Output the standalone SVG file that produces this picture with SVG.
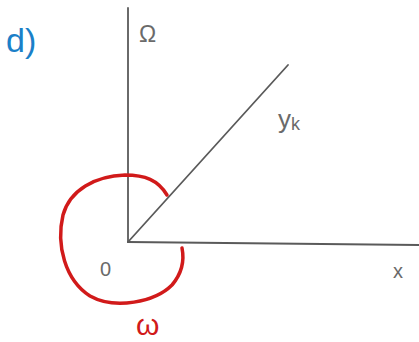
<svg xmlns="http://www.w3.org/2000/svg" width="419" height="342" viewBox="0 0 419 342">
<style>
.ax{stroke:#5a5a5a;stroke-width:1.8;fill:none;stroke-linecap:round}
.lbl{font-family:"Liberation Sans",Arial,sans-serif;fill:#6a6a6a}
</style>
<rect width="419" height="342" fill="#ffffff"/>
<g id="axes">
<path class="ax" d="M128,8 L128,242"/>
<path class="ax" d="M128,242 L419,245"/>
<path class="ax" d="M128,242 L288,65"/>
</g>
<g id="angle">
<path d="M167,195 C158,180 145,175 125,175 C95,176 70,190 63,215 C56,245 65,280 90,296 C115,310 155,302 172,285 C183,272 184,258 182,248" fill="none" stroke="#d11a1a" stroke-width="3.5" stroke-linecap="round"/>
</g>
<g id="labels">
<text x="6" y="52" font-family="Liberation Sans,Arial,sans-serif" font-size="34" fill="#1a80c8">d)</text>
<text class="lbl" x="139" y="42" font-size="23">Ω</text>
<text class="lbl" x="278" y="128" font-size="26">y<tspan font-size="18" dy="2">k</tspan></text>
<text class="lbl" x="100" y="276" font-size="20">0</text>
<text class="lbl" x="393" y="278" font-size="20">x</text>
<text x="136" y="335" font-family="Liberation Sans,Arial,sans-serif" font-size="30" fill="#d11a1a">ω</text>
</g>
</svg>
